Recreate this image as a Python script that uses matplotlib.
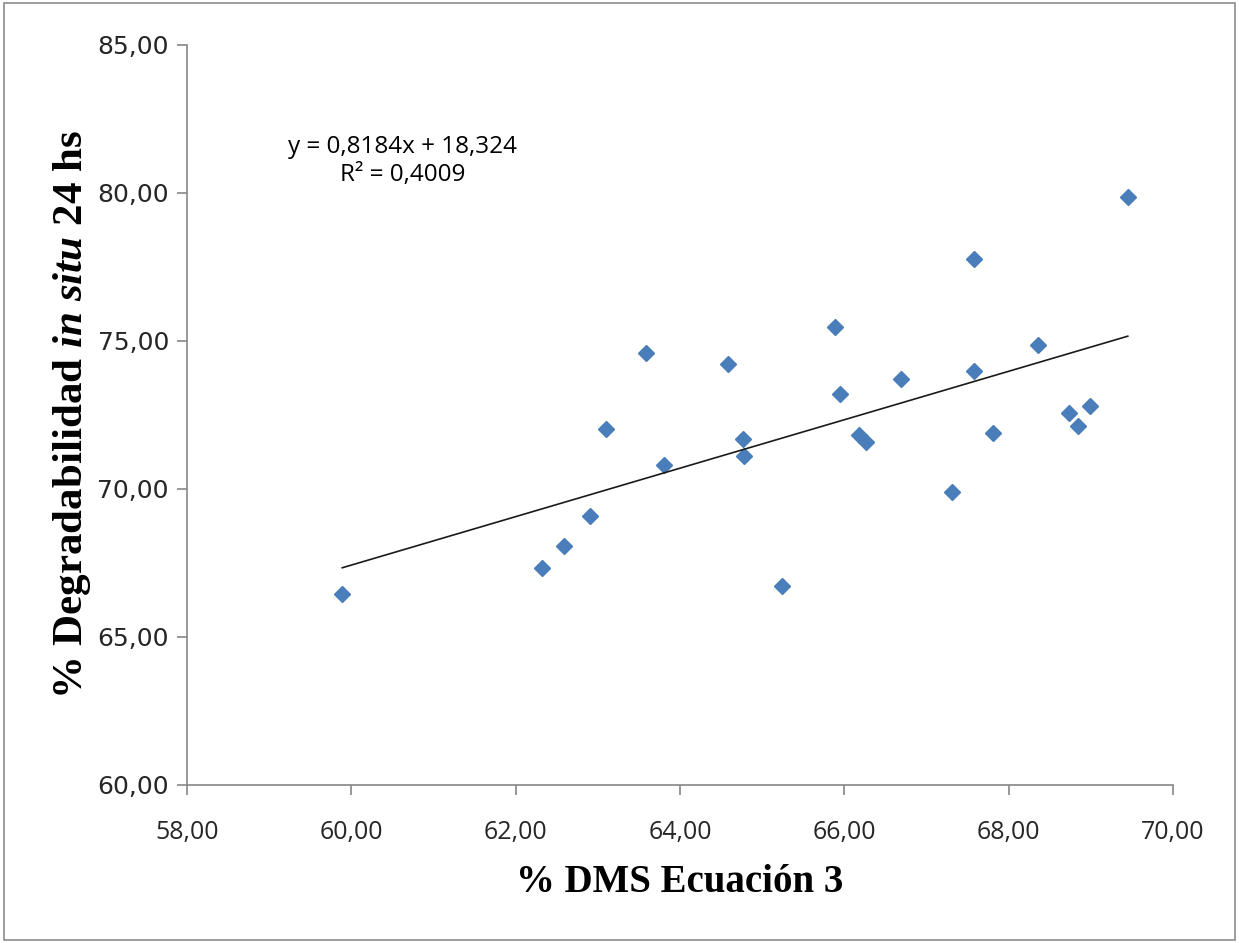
import matplotlib
matplotlib.use('Agg')
import matplotlib.pyplot as plt
import matplotlib.patches as mpatches
import numpy as np

# % DMS Ecuación 3 vs % Degradabilidad in situ 24 hs
dms = [59.89, 62.32, 62.59, 62.90, 63.10, 63.59, 63.80, 64.59, 64.77, 64.78,
       65.24, 65.89, 65.95, 66.18, 66.26, 66.69, 67.31, 67.58, 67.58, 67.81,
       68.36, 68.73, 68.85, 68.99, 69.45]
degr = [66.45, 67.34, 68.08, 69.08, 72.04, 74.58, 70.82, 74.22, 71.69, 71.13,
        66.72, 75.46, 73.22, 71.82, 71.59, 73.72, 69.89, 77.76, 73.99, 71.89,
        74.85, 72.56, 72.13, 72.80, 79.85]
slope, intercept = 0.8184, 18.324
r2 = 0.4009
x_ticks = [58, 60, 62, 64, 66, 68, 70]
y_ticks = [60, 65, 70, 75, 80, 85]

plt.rcParams['mathtext.fontset'] = 'custom'
plt.rcParams['mathtext.rm'] = 'Liberation Serif:bold'
plt.rcParams['mathtext.bfit'] = 'Liberation Serif:bold:italic'
plt.rcParams['mathtext.it'] = 'Liberation Serif:bold:italic'

fig = plt.figure(figsize=(12.39, 9.43), dpi=100)
ax = fig.add_axes([0.1509, 0.1676, 0.7958, 0.7847])

# outer chart border
fig.patches.append(mpatches.Rectangle((0.003, 0.003), 0.994, 0.994, transform=fig.transFigure,
                                      fill=False, edgecolor='#8c8c8c', linewidth=1.2))

ax.plot(dms, degr, linestyle='none', marker='D', ms=8.2, color='#4a7ebb',
        markeredgecolor='#4a7ebb')
xl = np.array([min(dms), max(dms)])
ax.plot(xl, slope * xl + intercept, color='#1a1a1a', linewidth=1.2)

ax.text(0.219, 0.843, f'y = {slope:.4f}x + {intercept:.3f}'.replace('.', ',') + '\n'
        + f'R² = {r2:.4f}'.replace('.', ','),
        transform=ax.transAxes, ha='center', va='center', fontsize=17.5,
        family='Open Sans', linespacing=1.25)

ax.set_xlim(58, 70)
ax.set_ylim(60, 85)
ax.set_xticks(x_ticks)
ax.set_yticks(y_ticks)
ax.set_xticklabels([f'{v:.2f}'.replace('.', ',') for v in x_ticks],
                   family='Open Sans', fontsize=18)
ax.set_yticklabels([f'{v:.2f}'.replace('.', ',') for v in y_ticks],
                   family='DejaVu Sans', fontsize=18)

for s in ['top', 'right']:
    ax.spines[s].set_visible(False)
for s in ['left', 'bottom']:
    ax.spines[s].set_color('#868686')
    ax.spines[s].set_linewidth(1.2)
ax.tick_params(direction='out', length=7, width=1.2, color='#868686', labelcolor='#262626')
ax.tick_params(axis='x', pad=18)
ax.tick_params(axis='y', pad=6)

ax.set_xlabel('% DMS Ecuación 3', family='Liberation Serif', fontweight='bold',
              fontsize=28, labelpad=14)
ax.set_ylabel(r'% Degradabilidad $\mathbfit{in\ situ}$ 24 hs', fontsize=31, labelpad=3,
              family='Liberation Serif', fontweight='bold')

fig.savefig('out.png', dpi=100)
